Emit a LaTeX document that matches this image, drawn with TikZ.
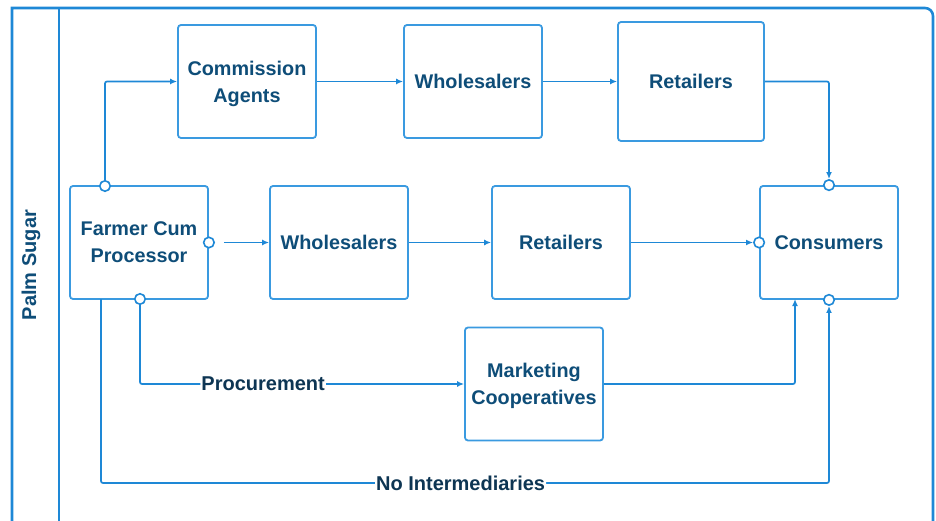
\documentclass[tikz,border=0pt]{standalone}
\usepackage{fontspec}
\setmainfont{Liberation Sans}
\usetikzlibrary{arrows.meta,calc}
\definecolor{lineblue}{HTML}{1E88D6}
\definecolor{boxblue}{HTML}{3A9AE0}
\definecolor{txtblue}{HTML}{0E4D78}
\definecolor{lbldark}{HTML}{0D3553}
\tikzset{
  box/.style={draw=boxblue, line width=1.8pt, rounded corners=3pt, fill=white,
    minimum width=138pt, minimum height=113pt, align=center, inner sep=0pt,
    text=txtblue, font=\fontsize{19.8}{27}\selectfont\bfseries},
  port/.style={circle, draw=lineblue, line width=1.6pt, fill=white,
    minimum size=10.5pt, inner sep=0pt},
  conn/.style={draw=lineblue, line width=1.7pt, rounded corners=2pt},
  arr/.style={conn, -{Latex[length=7pt,width=6pt]}},
  lbl/.style={fill=white, inner sep=1pt, text=lbldark,
    font=\fontsize{20}{23}\selectfont\bfseries},
  frame/.style={draw=lineblue, line width=2.6pt},
}
\begin{document}
\begin{tikzpicture}[x=1pt,y=-1pt]
\useasboundingbox (0,0) rectangle (936,521);
% frame
\draw[frame] (12,535) -- (12,8) {[rounded corners=8pt] -- (933,8) -- (933,535)};
\draw[draw=lineblue, line width=1.8pt] (59,8) -- (59,535);
\node[rotate=90, text=txtblue, font=\fontsize{20}{24}\selectfont\bfseries] (title) at (31,265) {Palm Sugar};
% boxes
\node[box, text depth=-2pt] (ca) at (247,81.5) {Commission\\Agents};
\node[box] (wt) at (473,81.5) {Wholesalers};
\node[box, minimum width=146pt, minimum height=119pt] (rt) at (691,81.5) {Retailers};
\node[box, text depth=-4pt] (fa) at (139,242.5) {Farmer Cum\\Processor};
\node[box] (wm) at (339,242.5) {Wholesalers};
\node[box] (rm) at (561,242.5) {Retailers};
\node[box] (co) at (829,242.5) {Consumers};
\node[box, text depth=-1pt] (mc) at (534,384) {Marketing\\Cooperatives};
% ports
\node[port] (pft) at (105,186) {};
\node[port] (pfr) at (fa.east) {};
\node[port] (pfb) at (140,299) {};
\node[port] (pct) at (co.north) {};
\node[port] (pcl) at (co.west) {};
\node[port] (pcb) at (co.south) {};
\coordinate (fbl) at (101,299);
\coordinate (cbm) at (795,299);
% connectors
\draw[arr] (pft) |- (ca.west);
\draw[arr] (ca.east) -- (wt.west);
\draw[arr] (wt.east) -- (wt.east -| rt.west);
\draw[arr] (rt.east) -| (pct);
\draw[arr] ([xshift=9pt]pfr.east) -- (wm.west);
\draw[arr] (wm.east) -- (rm.west);
\draw[arr] (rm.east) -- (pcl);
\draw[arr] (pfb) |- (mc.west) node[lbl, pos=0.69] (lproc) {Procurement};
\draw[arr] (mc.east) -| (cbm);
\draw[arr] (fbl) -- (101,483) -| (pcb) node[lbl, pos=0.247] (lnoi) {No Intermediaries};
\end{tikzpicture}
\end{document}
